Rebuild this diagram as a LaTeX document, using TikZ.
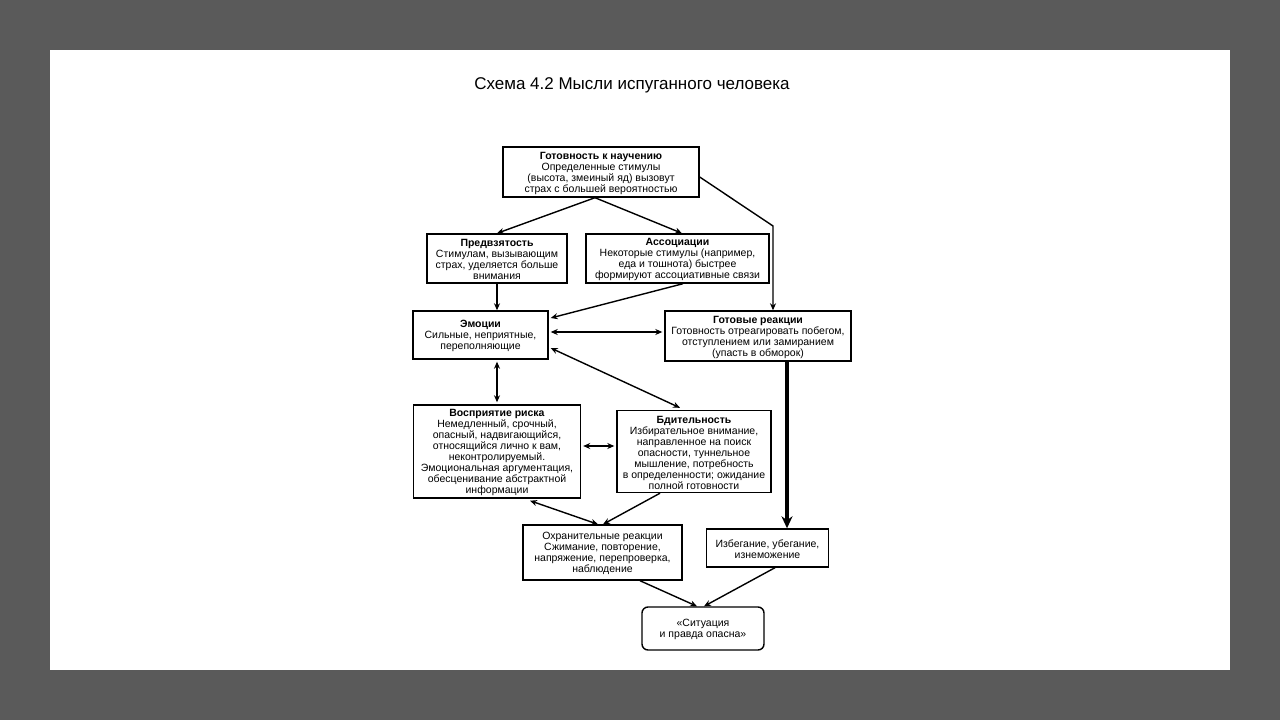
\documentclass[tikz,border=0pt]{standalone}
\usepackage{fontspec}
\setmainfont{Liberation Sans}
\usetikzlibrary{arrows.meta,calc}
\definecolor{outergray}{HTML}{5A5A5A}
\begin{document}
\begin{tikzpicture}[x=1pt,y=-1pt,
  box/.style={draw, line width=1.4pt, inner sep=0pt},
  txt/.style={align=center, inner sep=0pt, yshift=-1.2pt,
    font=\fontsize{10.5}{11}\selectfont},
  conn/.style={line width=1.4pt, -{Stealth[length=7pt,width=6pt]}},
  dconn/.style={line width=1.4pt, {Stealth[length=7pt,width=6pt]}-{Stealth[length=7pt,width=6pt]}},
  thickconn/.style={line width=4pt, -{Stealth[length=12pt,width=11pt]}}]
\fill[outergray] (0,0) rectangle (1280,720);
\fill[white] (50,50) rectangle (1230,670);
\useasboundingbox (0,0) rectangle (1280,720);

\node[font=\fontsize{17}{20}\selectfont] (title) at (632,85) {Схема 4.2 Мысли испуганного человека};

\node[box, minimum width=196, minimum height=50,
  label={[txt]center:{\textbf{Готовность к научению}\\Определенные стимулы\\(высота, змеиный яд) вызовут\\страх с большей вероятностью}}] (top) at (601,172) {};
\node[box, minimum width=140, minimum height=49,
  label={[txt]center:{\textbf{Предвзятость}\\Стимулам, вызывающим\\страх, уделяется больше\\внимания}}] (pred) at (497,258.5) {};
\node[box, minimum width=183, minimum height=49,
  label={[txt]center:{\textbf{Ассоциации}\\Некоторые стимулы (например,\\еда и тошнота) быстрее\\формируют ассоциативные связи}}] (assoc) at (677.5,258.5) {};
\node[box, minimum width=135, minimum height=48,
  label={[txt]center:{\textbf{Эмоции}\\Сильные, неприятные,\\переполняющие}}] (emo) at (480.5,335) {};
\node[box, minimum width=186, minimum height=50,
  label={[txt]center:{\textbf{Готовые реакции}\\Готовность отреагировать побегом,\\отступлением или замиранием\\(упасть в обморок)}}] (gotov) at (758,336) {};
\node[box, minimum width=167, minimum height=93,
  label={[txt]center:{\textbf{Восприятие риска}\\Немедленный, срочный,\\опасный, надвигающийся,\\относящийся лично к вам,\\неконтролируемый.\\Эмоциональная аргументация,\\обесценивание абстрактной\\информации}}] (vospr) at (497,451.5) {};
\node[box, minimum width=154, minimum height=82,
  label={[txt]center:{\textbf{Бдительность}\\Избирательное внимание,\\направленное на поиск\\опасности, туннельное\\мышление, потребность\\в определенности; ожидание\\полной готовности}}] (bdit) at (694,451.5) {};
\node[box, minimum width=159, minimum height=55,
  label={[txt]center:{Охранительные реакции\\Сжимание, повторение,\\напряжение, перепроверка,\\наблюдение}}] (ohran) at (602.5,552.5) {};
\node[box, minimum width=122, minimum height=38,
  label={[txt]center:{Избегание, убегание,\\изнеможение}}] (izbeg) at (767.5,548) {};
\node[box, rounded corners=6pt, minimum width=122, minimum height=43,
  label={[txt]center:{«Ситуация\\и правда опасна»}}] (sit) at (703,628.5) {};

\coordinate (bend) at (773,226);

\draw[conn] ($(top.south)+(-6,0)$) -- (pred.north);
\draw[conn] ($(top.south)+(-6,0)$) -- ($(assoc.north)+(4.5,0)$);
\draw[conn] ($(top.east)+(0,5)$) -- (bend) -- ($(gotov.north)+(15,0)$);
\draw[conn] ($(assoc.south)+(5.5,0)$) -- ($(emo.east)+(2,-17)$);
\draw[conn] (pred.south) -- ($(emo.north)+(16.5,0)$);
\draw[dconn] ($(emo.east)+(2,-3)$) -- ($(gotov.west)+(-2,-4)$);
\draw[dconn] ($(emo.south)+(16.5,2)$) -- ($(vospr.north)+(0,-2)$);
\draw[dconn] ($(emo.east)+(2,13)$) -- ($(bdit.north)+(-14,-2)$);
\draw[dconn] ($(vospr.east)+(2,-5.5)$) -- ($(bdit.west)+(-2,-5.5)$);
\draw[dconn] ($(vospr.south)+(33,2)$) -- ($(ohran.north)+(-4.5,0)$);
\draw[conn] ($(bdit.south)+(-34,0)$) -- ($(ohran.north)+(0.5,0)$);
\draw[thickconn] ($(gotov.south)+(29,0)$) -- ($(izbeg.north)+(19.5,0)$);
\draw[conn] ($(ohran.south)+(37.5,0)$) -- ($(sit.north)+(-6,0)$);
\draw[conn] ($(izbeg.south)+(7.5,0)$) -- ($(sit.north)+(1,0)$);
\end{tikzpicture}
\end{document}
